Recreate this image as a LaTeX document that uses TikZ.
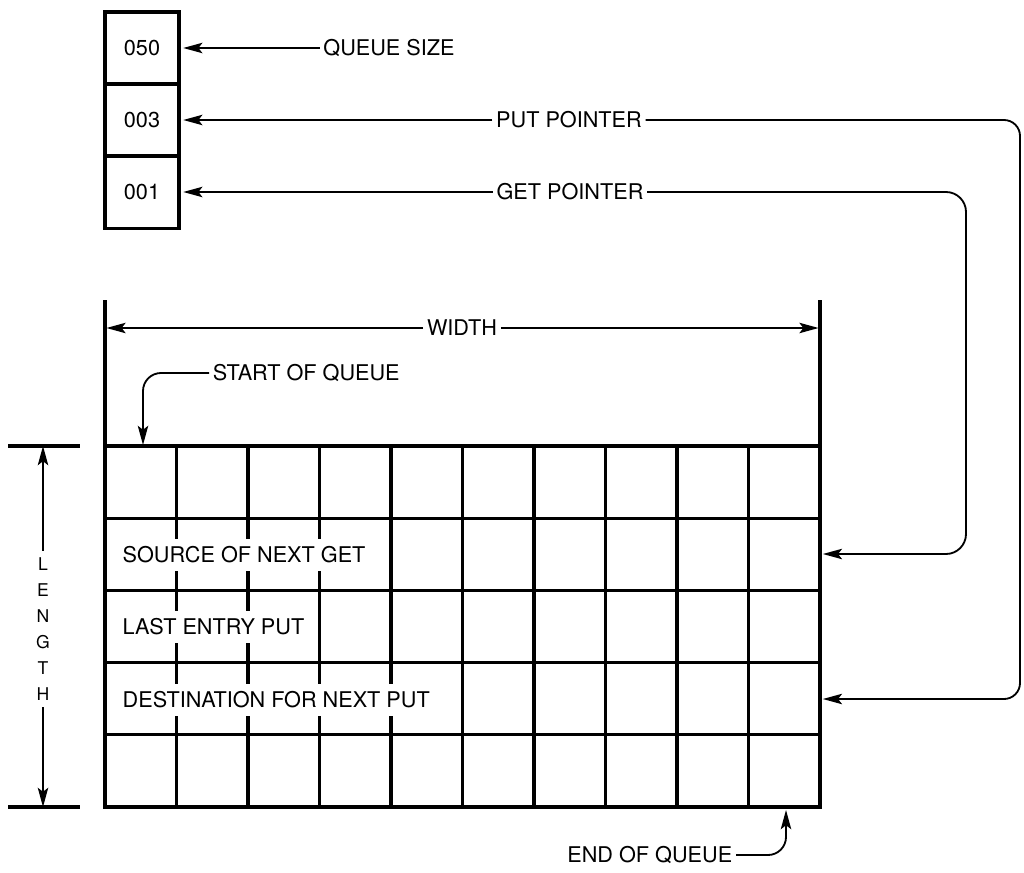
\documentclass[tikz,border=0pt]{standalone}
\usepackage{fontspec}
\setmainfont{TeX Gyre Heros}
\usetikzlibrary{arrows.meta,positioning}

\tikzset{
    lbl/.style={font=\fontsize{15.4}{18}\selectfont, inner sep=2.5pt, text height=11.1pt, text depth=0pt},
    slot/.style={lbl, draw, line width=2.2pt, outer sep=0pt, minimum width=1.85cm, minimum height=1.8cm},
    rowlbl/.style={lbl, fill=white, anchor=west, inner xsep=1pt, inner ysep=6pt},
    ptr/.style={line width=1.3pt, -{Stealth[length=4.8mm,width=2.6mm,inset=1mm]}},
    wall/.style={line width=2.3pt}
}

\begin{document}
\begin{tikzpicture}[x=0.025cm,y=-0.025cm]
    \useasboundingbox (0,0) rectangle (1024,873);

    \node[slot] (qsize) at (142,48) {050};
    \node[slot, below=0pt of qsize] (putval) {003};
    \node[slot, below=0pt of putval] (getval) {001};

    \node[lbl] (qsizetxt) at (389,48) {QUEUE SIZE};
    \node[lbl] (puttxt) at (569,120) {PUT POINTER};
    \node[lbl] (gettxt) at (570,192) {GET POINTER};

    \foreach \i in {1,...,9}
        \draw[wall] (105+71.5*\i,446) -- (105+71.5*\i,807);
    \foreach \j in {0,...,4}
        \draw[wall] (105,446+72.2*\j) -- (820,446+72.2*\j);
    \draw[wall] (105,300) -- (105,807) -- (820,807) -- (820,300);

    \coordinate (lwall) at (105,300);
    \coordinate (rwall) at (820,300);
    \coordinate (getslot) at (820,554);
    \coordinate (putslot) at (820,699);
    \coordinate (putturn) at (1020,0);
    \coordinate (getturn) at (966,0);
    \coordinate (qstart) at (143,445);
    \coordinate (qend) at (786,810);
    \coordinate (lentop) at (43,446);
    \coordinate (lenbot) at (43,807);

    \node[rowlbl] (srcget) at (121,555) {SOURCE OF NEXT GET};
    \node[rowlbl] (lastput) at (121,627) {LAST ENTRY PUT};
    \node[rowlbl] (dstput) at (121,700) {DESTINATION FOR NEXT PUT};

    \draw[ptr, shorten >=3pt] (qsizetxt) -- (qsizetxt -| qsize.east);
    \draw[ptr, shorten >=3pt] (puttxt) -- (puttxt -| putval.east);
    \draw[ptr, shorten >=3pt] (gettxt) -- (gettxt -| getval.east);
    \draw[ptr, rounded corners=0.4cm, shorten >=2pt] (puttxt) -- (puttxt -| putturn) -- (putturn |- putslot) -- (putslot);
    \draw[ptr, rounded corners=0.5cm, shorten >=2pt] (gettxt) -- (gettxt -| getturn) -- (getturn |- getslot) -- (getslot);

    \node[lbl, fill=white] (widthtxt) at (462,328) {WIDTH};
    \draw[ptr, shorten >=1pt] (widthtxt) -- (lwall |- widthtxt);
    \draw[ptr, shorten >=1pt] (widthtxt) -- (rwall |- widthtxt);

    \node[lbl, anchor=west] (starttxt) at (209,373) {START OF QUEUE};
    \draw[ptr, rounded corners=0.45cm] (starttxt.west) -| (qstart);

    \node[lbl, anchor=east] (endtxt) at (736,855) {END OF QUEUE};
    \draw[ptr, rounded corners=0.45cm] (endtxt.east) -| (qend);

    \draw[wall] (8,446) -- (80,446);
    \draw[wall] (8,807) -- (80,807);
    \node[font=\fontsize{12.5}{18.4}\selectfont, align=center, inner sep=5pt] (lentxt) at (43,629) {L\\E\\N\\G\\T\\H};
    \draw[ptr] (lentxt) -- (lentop);
    \draw[ptr] (lentxt) -- (lenbot);
\end{tikzpicture}
\end{document}
